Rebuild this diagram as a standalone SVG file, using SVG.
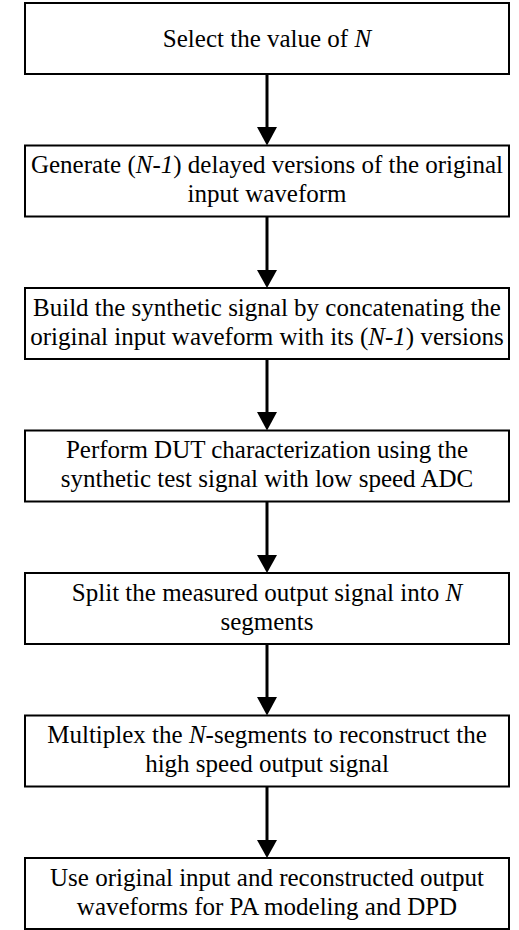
<svg xmlns="http://www.w3.org/2000/svg" width="519" height="930" viewBox="0 0 519 930">
<style>
.box{fill:#fff;stroke:#000;stroke-width:2}
.t{font-family:"Liberation Serif","Times New Roman",serif;font-size:25px;fill:#000;text-anchor:middle}
.i{font-style:italic}
.c{stroke:#000;stroke-width:3;fill:none}
.h{fill:#000;stroke:none}
</style>
<rect width="519" height="930" fill="#fff"/>
<g id="connectors">
<line class="c" x1="267" y1="74" x2="267" y2="128"/><polygon class="h" points="257,127 277,127 267,145.5"/>
<line class="c" x1="267" y1="216.5" x2="267" y2="271"/><polygon class="h" points="257,270 277,270 267,288"/>
<line class="c" x1="267" y1="359" x2="267" y2="413"/><polygon class="h" points="257,412 277,412 267,430.5"/>
<line class="c" x1="267" y1="501.5" x2="267" y2="556"/><polygon class="h" points="257,555 277,555 267,573"/>
<line class="c" x1="267" y1="644" x2="267" y2="698"/><polygon class="h" points="257,697 277,697 267,715.5"/>
<line class="c" x1="267" y1="786.5" x2="267" y2="841"/><polygon class="h" points="257,840 277,840 267,858"/>
</g>
<g id="n1"><rect class="box" x="25" y="3" width="484" height="71"/><text class="t" x="267" y="47">Select the value of <tspan class="i">N</tspan></text></g>
<g id="n2"><rect class="box" x="25" y="145.5" width="484" height="71"/><text class="t" x="267" y="173">Generate (<tspan class="i">N-1</tspan>) delayed versions of the original</text><text class="t" x="267" y="202">input waveform</text></g>
<g id="n3"><rect class="box" x="25" y="288" width="484" height="71"/><text class="t" x="267" y="315.5">Build the synthetic signal by concatenating the</text><text class="t" x="267" y="344.5">original input waveform with its (<tspan class="i">N-1</tspan>) versions</text></g>
<g id="n4"><rect class="box" x="25" y="430.5" width="484" height="71"/><text class="t" x="267" y="458">Perform DUT characterization using the</text><text class="t" x="267" y="487">synthetic test signal with low speed ADC</text></g>
<g id="n5"><rect class="box" x="25" y="573" width="484" height="71"/><text class="t" x="267" y="600.5">Split the measured output signal into <tspan class="i">N</tspan></text><text class="t" x="267" y="629.5">segments</text></g>
<g id="n6"><rect class="box" x="25" y="715.5" width="484" height="71"/><text class="t" x="267" y="743">Multiplex the <tspan class="i">N</tspan>-segments to reconstruct the</text><text class="t" x="267" y="772">high speed output signal</text></g>
<g id="n7"><rect class="box" x="25" y="858" width="484" height="71"/><text class="t" x="267" y="885.5">Use original input and reconstructed output</text><text class="t" x="267" y="914.5">waveforms for PA modeling and DPD</text></g>
</svg>
